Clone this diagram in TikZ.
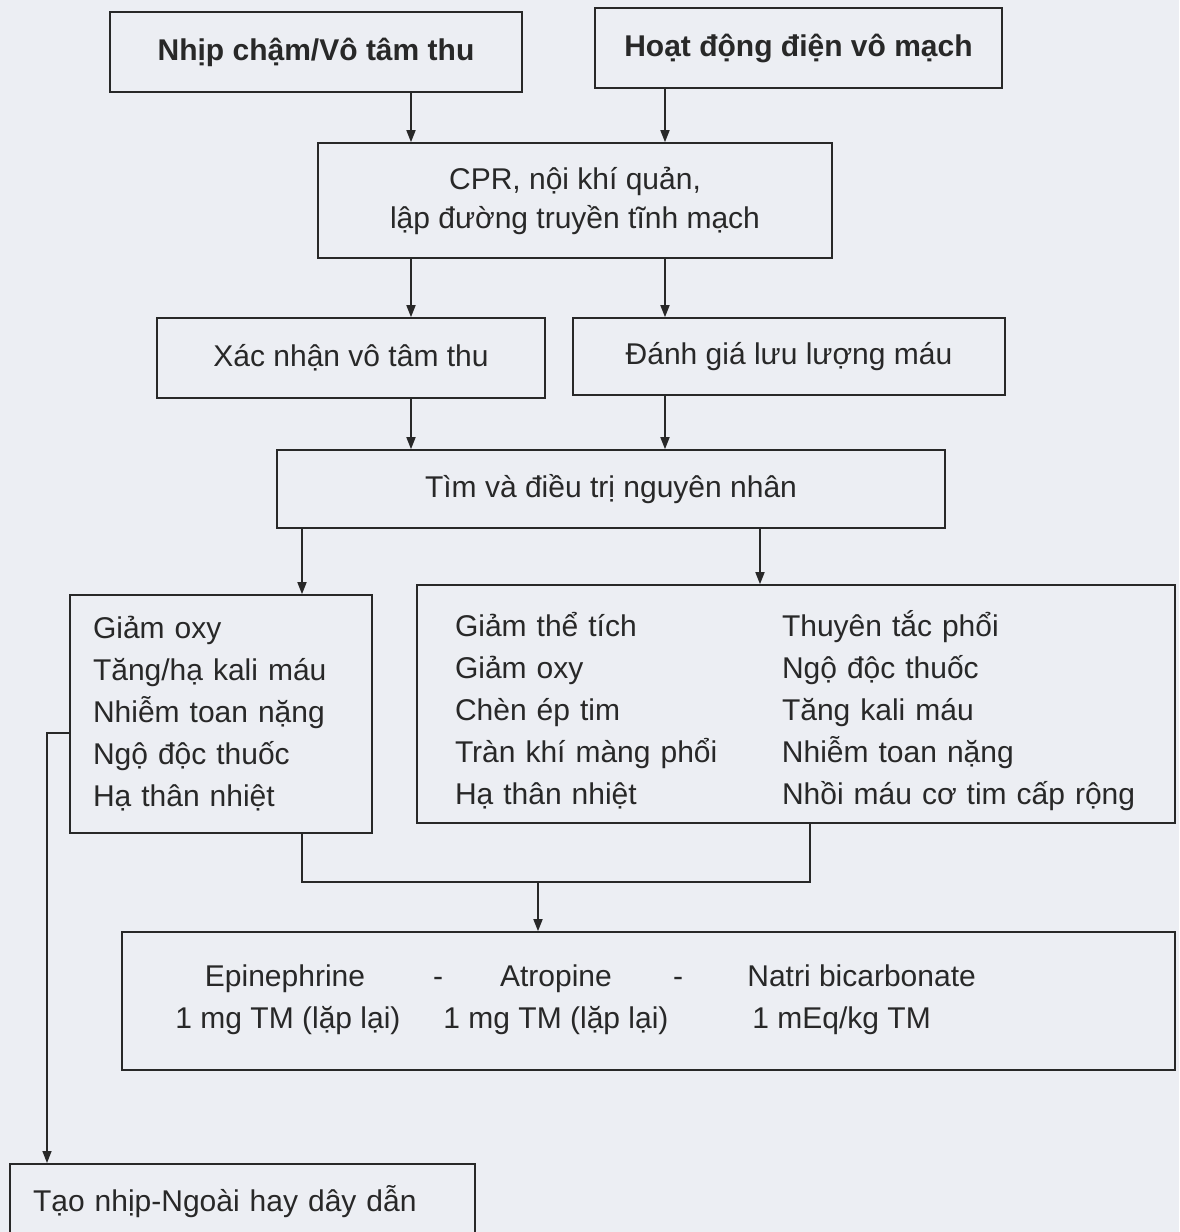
\documentclass[tikz,border=0pt]{standalone}
\usepackage{fontspec}
\setmainfont{Liberation Sans}
\usetikzlibrary{arrows.meta}
\definecolor{bgc}{RGB}{236,238,243}
\definecolor{ink}{RGB}{40,40,40}
\begin{document}
\begin{tikzpicture}[x=0.5pt,y=-0.5pt,
  box/.style={draw=ink, line width=0.8pt, inner sep=0pt, align=center, text=ink,
    font=\fontsize{15pt}{19.5pt}\selectfont},
  listbox/.style={box, align=left, font=\fontsize{15pt}{21pt}\selectfont},
  lbl/.style={inner sep=0pt, anchor=base, text=ink, font=\fontsize{15pt}{21pt}\selectfont},
  arr/.style={draw=ink, line width=0.8pt, -{Triangle[length=6pt,width=4.5pt]}},
  ln/.style={draw=ink, line width=0.8pt}]
\fill[bgc] (0,0) rectangle (1179,1232);
\useasboundingbox (0,0) rectangle (1179,1232);

% column coordinates
\coordinate (xa) at (411,0);
\coordinate (xb) at (665,0);
\coordinate (xc) at (302,0);
\coordinate (xd) at (760,0);
\coordinate (xe) at (810,0);
\coordinate (j1) at (302,882);
\coordinate (j2) at (810,882);
\coordinate (j3) at (538,882);
\coordinate (k2) at (47,733);

% boxes
\node[box, minimum width=206pt, minimum height=40pt,
  font=\bfseries\fontsize{15pt}{18pt}\selectfont] (b1) at (316,52) {Nhịp chậm/Vô tâm thu};
\node[box, minimum width=203.5pt, minimum height=40pt,
  font=\bfseries\fontsize{15pt}{18pt}\selectfont] (b2) at (798.5,48) {Hoạt động điện vô mạch};
\node[box, minimum width=257pt, minimum height=57.5pt] (b3) at (575,200.5)
  {CPR, nội khí quản,\\lập đường truyền tĩnh mạch};
\node[box, minimum width=194pt, minimum height=40pt] (b4) at (351,358) {Xác nhận vô tâm thu};
\node[box, minimum width=216pt, minimum height=38.5pt] (b5) at (789,356.5) {Đánh giá lưu lượng máu};
\node[box, minimum width=334pt, minimum height=39pt] (b6) at (611,489) {Tìm và điều trị nguyên nhân};
\node[listbox, minimum width=151pt, minimum height=119pt, inner xsep=11.5pt, text width=128pt] (b7) at (221,714)
  {Giảm oxy\\Tăng/hạ kali máu\\Nhiễm toan nặng\\Ngộ độc thuốc\\Hạ thân nhiệt};
\node[listbox, minimum width=379pt, minimum height=119pt, inner xsep=19pt, text width=341pt] (b8) at (796,704)
  {\raisebox{-4pt}[\height][\depth]{\begin{tabular}{@{}p{163.5pt}@{}l@{}}
   Giảm thể tích & Thuyên tắc phổi\\
   Giảm oxy & Ngộ độc thuốc\\
   Chèn ép tim & Tăng kali máu\\
   Tràn khí màng phổi & Nhiễm toan nặng\\
   Hạ thân nhiệt & Nhồi máu cơ tim cấp rộng
   \end{tabular}}};
\node[box, minimum width=526.5pt, minimum height=69pt] (b9) at (648.5,1001) {};
\node[listbox, anchor=north, minimum width=232.5pt, minimum height=38pt, inner xsep=11.5pt, text width=209.5pt] (b10) at (242.5,1163)
  {Tạo nhịp-Ngoài hay dây dẫn};

% drug texts
\node[lbl] (t1) at (285,986) {Epinephrine};
\node[lbl] (t2) at (288,1028) {1 mg TM (lặp lại)};
\node[lbl] (t3) at (438,986) {-};
\node[lbl] (t4) at (556,986) {Atropine};
\node[lbl] (t5) at (556,1028) {1 mg TM (lặp lại)};
\node[lbl] (t6) at (678,986) {-};
\node[lbl, anchor=base west] (t7) at (747,986) {Natri bicarbonate};
\node[lbl, anchor=base west] (t8) at (752,1028) {1 mEq/kg TM};

% connectors
\draw[arr] (b1.south -| xa) -- (b3.north -| xa);
\draw[arr] (b2.south -| xb) -- (b3.north -| xb);
\draw[arr] (b3.south -| xa) -- (b4.north -| xa);
\draw[arr] (b3.south -| xb) -- (b5.north -| xb);
\draw[arr] (b4.south -| xa) -- (b6.north -| xa);
\draw[arr] (b5.south -| xb) -- (b6.north -| xb);
\draw[arr] (b6.south -| xc) -- (b7.north -| xc);
\draw[arr] (b6.south -| xd) -- (b8.north -| xd);
\draw[ln] (b7.south -| xc) -- (j1) -- (j2) -- (b8.south -| xe);
\draw[arr] (j3) -- (b9.north -| j3);
\draw[arr] (b7.west |- k2) -- (k2) -- (b10.north -| k2);
\end{tikzpicture}
\end{document}
